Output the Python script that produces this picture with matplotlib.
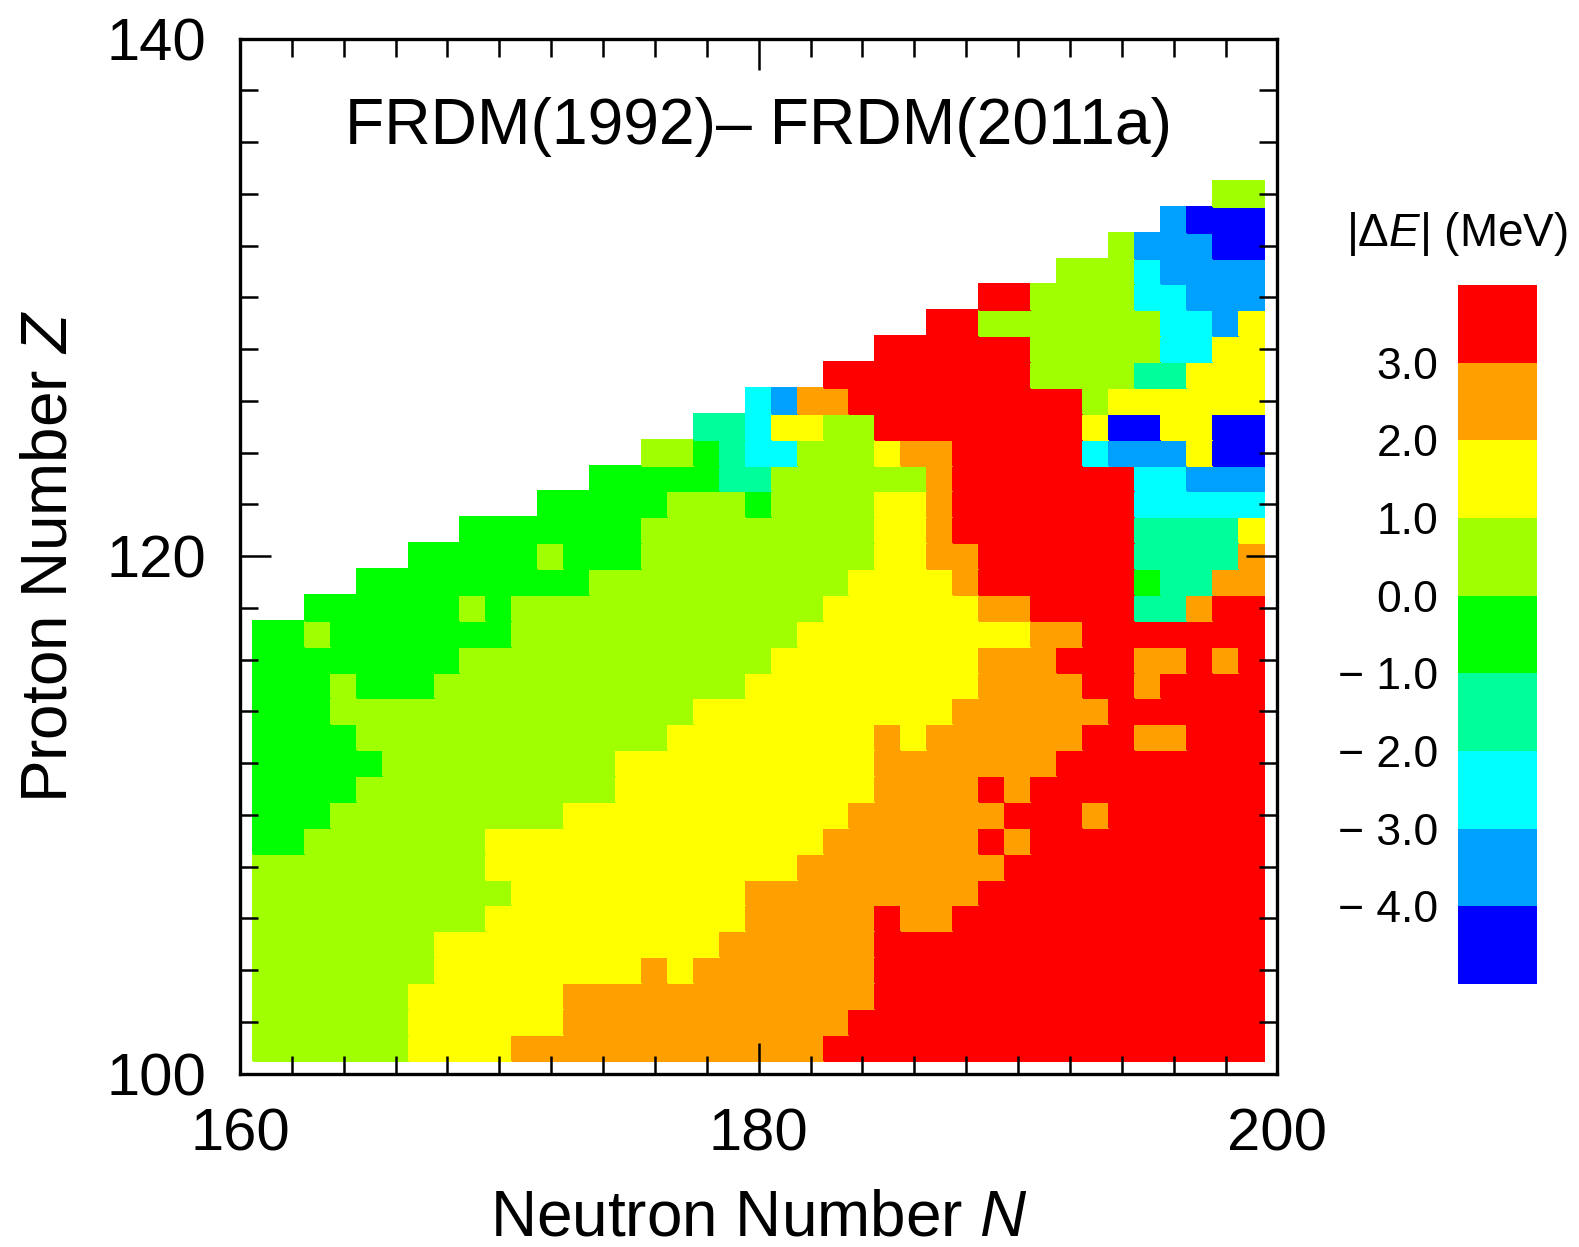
import numpy as np
import matplotlib
matplotlib.use("Agg")
import matplotlib.pyplot as plt
from matplotlib.colors import ListedColormap, BoundaryNorm
from matplotlib.ticker import MultipleLocator

plt.rcParams["font.family"] = ["Liberation Sans", "DejaVu Sans"]
plt.rcParams["mathtext.fontset"] = "custom"
plt.rcParams["mathtext.rm"] = "Liberation Sans"
plt.rcParams["mathtext.it"] = "Liberation Sans:italic"

# neutron numbers (columns) and proton numbers (rows, top to bottom)
n_values = list(range(161, 200))
z_values = list(range(134, 100, -1))

# level read per cell: B < -4, b -4..-3, c -3..-2, a -2..-1, g -1..0,
# l 0..1, y 1..2, o 2..3, r > 3, "." no nucleus
rows = [
    "." * 37 + "ll",                                                   # Z=134
    "." * 35 + "b" + "BBB",
    "." * 33 + "l" + "bbb" + "BB",
    "." * 31 + "lll" + "c" + "bbbb",
    "." * 28 + "rr" + "llll" + "cc" + "bbb",                           # Z=130
    "." * 26 + "rr" + "l" * 7 + "cc" + "b" + "y",
    "." * 24 + "r" * 6 + "l" * 5 + "cc" + "yy",
    "." * 22 + "r" * 8 + "l" * 4 + "aa" + "yyy",
    "." * 19 + "c" + "b" + "oo" + "r" * 9 + "l" + "y" * 6,
    "." * 17 + "aa" + "c" + "yy" + "ll" + "r" * 8 + "y" + "BB" + "yy" + "BB",  # Z=125
    "." * 15 + "ll" + "g" + "a" + "cc" + "lll" + "y" + "oo" + "r" * 5 + "c" + "bbb" + "y" + "BB",
    "." * 13 + "g" * 5 + "aa" + "l" * 6 + "o" + "r" * 7 + "cc" + "bbb",
    "." * 11 + "g" * 5 + "lll" + "g" + "llll" + "yy" + "o" + "r" * 7 + "c" * 5,
    "." * 8 + "g" * 7 + "l" * 9 + "yy" + "o" + "r" * 7 + "aaaa" + "y",
    "." * 6 + "g" * 5 + "l" + "ggg" + "l" * 9 + "yy" + "oo" + "r" * 6 + "aaaa" + "o",  # Z=120
    "." * 4 + "g" * 9 + "l" * 10 + "yyyy" + "o" + "r" * 6 + "g" + "aa" + "oo",
    "." * 2 + "g" * 6 + "l" + "g" + "l" * 12 + "y" * 6 + "oo" + "rrrr" + "aa" + "o" + "rr",
    "gg" + "l" + "g" * 7 + "l" * 11 + "y" * 9 + "oo" + "r" * 7,
    "g" * 8 + "l" * 12 + "y" * 8 + "ooo" + "rrr" + "oo" + "r" + "o" + "r",
    "ggg" + "l" + "ggg" + "l" * 12 + "y" * 9 + "oooo" + "rr" + "o" + "rrrr",  # Z=115
    "ggg" + "l" * 14 + "y" * 10 + "o" * 6 + "r" * 6,
    "gggg" + "l" * 12 + "y" * 8 + "o" + "y" + "o" * 6 + "rr" + "oo" + "rrr",
    "g" * 5 + "l" * 9 + "y" * 10 + "o" * 7 + "r" * 8,
    "gggg" + "l" * 10 + "y" * 10 + "oooo" + "r" + "o" + "r" * 9,
    "ggg" + "l" * 9 + "y" * 11 + "o" * 6 + "rrr" + "o" + "r" * 6,      # Z=110
    "gg" + "l" * 7 + "y" * 13 + "o" * 6 + "r" + "o" + "r" * 9,
    "l" * 9 + "y" * 12 + "o" * 8 + "r" * 10,
    "l" * 10 + "y" * 9 + "o" * 9 + "r" * 11,
    "l" * 9 + "y" * 10 + "o" * 5 + "r" + "oo" + "r" * 12,
    "l" * 7 + "y" * 11 + "o" * 6 + "r" * 15,                           # Z=105
    "l" * 7 + "y" * 8 + "o" + "y" + "o" * 7 + "r" * 15,
    "l" * 6 + "y" * 6 + "o" * 12 + "r" * 15,
    "l" * 6 + "y" * 6 + "o" * 11 + "r" * 16,
    "l" * 6 + "y" * 4 + "o" * 12 + "r" * 17,                           # Z=101
]

# representative |dE| (MeV) for each level
level_value = {"B": -4.5, "b": -3.5, "c": -2.5, "a": -1.5, "g": -0.5,
               "l": 0.5, "y": 1.5, "o": 2.5, "r": 3.5, ".": np.nan}

level_bounds = [-5, -4, -3, -2, -1, 0, 1, 2, 3, 4]
level_colors = ["#0000ff", "#00a0ff", "#00ffff", "#00ff9a", "#00ff00",
                "#a0ff00", "#ffff00", "#ffa000", "#ff0000"]
cbar_ticks = [-4, -3, -2, -1, 0, 1, 2, 3]
cbar_labels = ["\u2212 4.0", "\u2212 3.0", "\u2212 2.0", "\u2212 1.0",
               "0.0", "1.0", "2.0", "3.0"]

grid = np.array([[level_value[c] for c in r] for r in rows])
grid = np.ma.masked_invalid(grid)

cmap = ListedColormap(level_colors)
norm = BoundaryNorm(level_bounds, cmap.N)

fig = plt.figure(figsize=(15.79, 12.47), dpi=100)
ax = fig.add_axes([0.152, 0.139, 0.657, 0.830])

n_edges = np.arange(n_values[0] - 0.5, n_values[-1] + 1.0)
z_edges = np.arange(z_values[-1] - 0.5, z_values[0] + 1.0)
mesh = ax.pcolormesh(n_edges, z_edges, grid[::-1], cmap=cmap, norm=norm,
                     edgecolors="face", linewidth=0.3)

ax.set_xlim(160, 200)
ax.set_ylim(100, 140)
ax.xaxis.set_major_locator(MultipleLocator(20))
ax.xaxis.set_minor_locator(MultipleLocator(2))
ax.yaxis.set_major_locator(MultipleLocator(20))
ax.yaxis.set_minor_locator(MultipleLocator(2))
ax.tick_params(which="both", direction="in", top=True, right=True,
               width=1.8, labelsize=43, pad=24)
ax.tick_params(which="major", length=22)
ax.tick_params(which="minor", length=13)
for sp in ax.spines.values():
    sp.set_linewidth(2.4)

ax.set_xlabel("Neutron Number $N$", fontsize=46, labelpad=19)
ax.set_ylabel("Proton Number $Z$", fontsize=46, labelpad=20)
ax.text(180, 136.6, "FRDM(1992)\u2013 FRDM(2011a)", fontsize=46.3,
        ha="center", va="center")

cax = fig.add_axes([0.9234, 0.2109, 0.050, 0.5605])
cbar = fig.colorbar(mesh, cax=cax, boundaries=level_bounds, ticks=cbar_ticks)
cbar.outline.set_visible(False)
cax.minorticks_off()
cax.yaxis.set_ticks_position("left")
cax.set_yticklabels(cbar_labels)
cax.tick_params(which="both", length=0, labelsize=32, pad=14)
fig.text(0.9225, 0.812, r"$|\Delta E|$ (MeV)", fontsize=33,
         ha="center", va="center")

fig.savefig("out.png", dpi=100)
